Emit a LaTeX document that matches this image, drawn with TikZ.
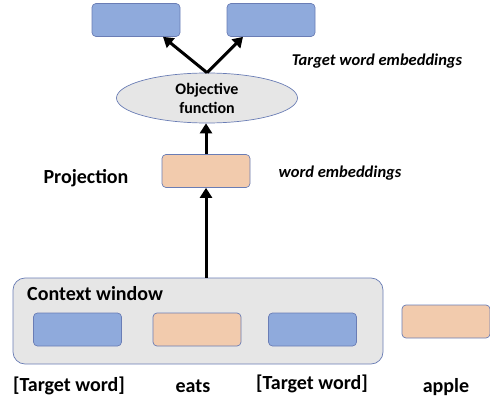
\documentclass[tikz,border=0pt]{standalone}
\usepackage{fontspec}
\setmainfont{Carlito}
\usetikzlibrary{arrows.meta,calc,shapes.geometric}
\definecolor{bfill}{HTML}{8FAADC}
\definecolor{ofill}{HTML}{F2CBAD}
\definecolor{gfill}{HTML}{E6E6E6}
\definecolor{edge}{HTML}{6A7DB5}
\tikzset{
  emb/.style={draw=edge, line width=0.7pt, rounded corners=4pt, minimum width=88pt, minimum height=33pt, inner sep=0pt},
  blue/.style={emb, fill=bfill},
  orange/.style={emb, fill=ofill},
  lbl/.style={font=\bfseries\fontsize{20}{22}\selectfont, inner sep=0pt},
  ilbl/.style={font=\bfseries\itshape\fontsize{16.5}{18}\selectfont, inner sep=0pt},
  arr/.style={line width=3pt, -{Triangle[width=12pt,length=10pt]}}
}
\begin{document}
\begin{tikzpicture}[x=1pt,y=-1pt]
\useasboundingbox (0,0) rectangle (490,401);
% top targets
\node[blue] (t1) at (136,20) {};
\node[blue] (t2) at (271,20) {};
\node[ilbl] (tl) at (377,61) {Target word embeddings};
% objective
\node[ellipse, draw=edge, line width=0.7pt, fill=gfill, minimum width=181pt, minimum height=50pt, inner sep=0pt, align=center, font=\bfseries\fontsize{16}{19}\selectfont] (obj) at (207,98) {Objective\\function};
% projection
\node[orange] (we) at (206,171) {};
\node[ilbl] (wel) at (340,173) {word embeddings};
\node[lbl] (proj) at (86,178) {Projection};
% context window
\node[draw=edge, line width=0.7pt, fill=gfill, rounded corners=12pt, minimum width=370pt, minimum height=86pt, inner sep=0pt] (cw) at (198,321) {};
\node[lbl, anchor=west] (cwl) at (27,294) {Context window};
\node[blue] (c1) at (77.5,329.5) {};
\node[orange] (c2) at (197,329.5) {};
\node[blue] (c3) at (312.5,329.5) {};
\node[orange] (ap) at (446,321.5) {};
% bottom labels
\node[lbl] (l1) at (69,386) {[Target word]};
\node[lbl] (l2) at (193,386) {eats};
\node[lbl] (l3) at (312,384) {[Target word]};
\node[lbl] (l4) at (446,387) {apple};
% arrows
\coordinate (a1) at ($(t1.south)+(27,0)$);
\coordinate (a2) at ($(t2.south)+(-28,0)$);
\draw[arr] (obj.north) -- (a1);
\draw[arr] (obj.north) -- (a2);
\draw[arr] (we.north) -- (we.north |- obj.south);
\draw[arr] (we.south |- cw.north) -- (we.south);
\end{tikzpicture}
\end{document}
